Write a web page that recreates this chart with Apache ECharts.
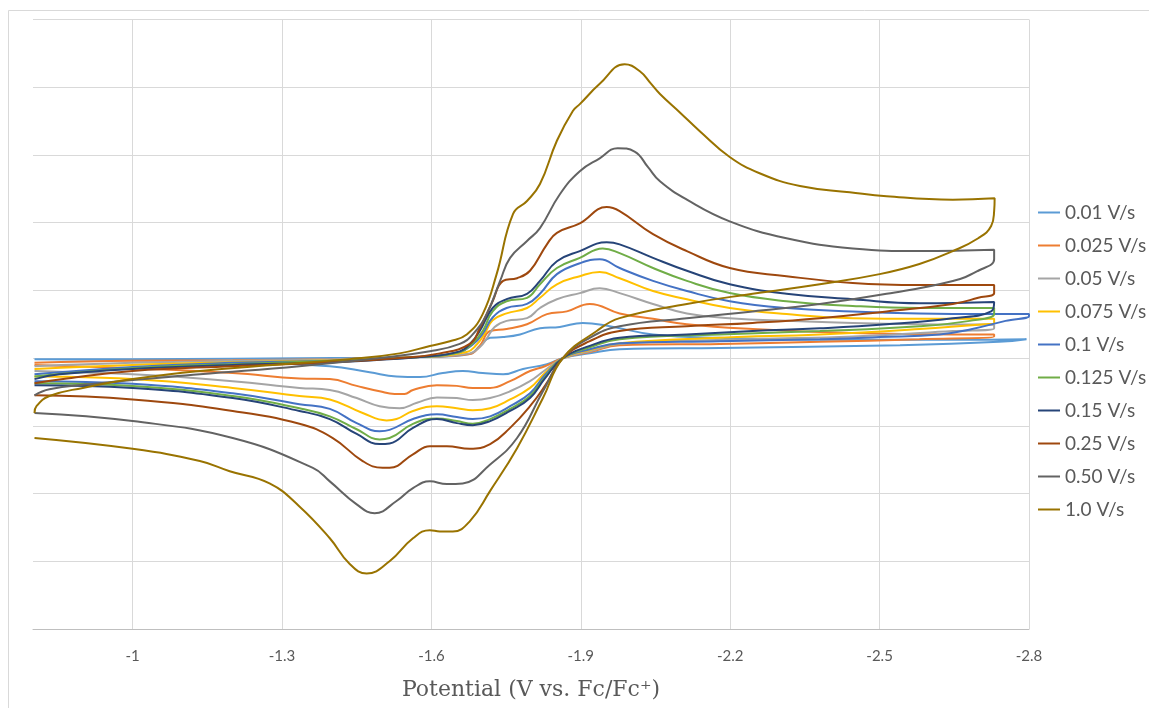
<!DOCTYPE html>
<html>
<head>
<meta charset="utf-8">
<title>Cyclic voltammetry – scan rate series</title>
<script src="https://cdn.jsdelivr.net/npm/echarts@6/dist/echarts.min.js"></script>
<style>
  html, body { margin: 0; padding: 0; background: #ffffff; }
  #chart { width: 1149px; height: 708px; }
</style>
</head>
<body>
<div id="chart"></div>
<script>
// Scan rates shown in the legend
const scanRates = ['0.01 V/s', '0.025 V/s', '0.05 V/s', '0.075 V/s', '0.1 V/s',
                   '0.125 V/s', '0.15 V/s', '0.25 V/s', '0.50 V/s', '1.0 V/s'];

// Voltammograms: [potential (V vs. Fc/Fc+), current]; forward sweep then return sweep
const cv_0_01 = [
  [-0.803,-0.15],[-1.000,-0.15],[-1.402,0],[-1.597,0.15],[-1.677,0.6],[-1.697,1.8],[-1.718,3.0],
  [-1.744,3.1],[-1.778,3.5],[-1.818,4.4],[-1.858,4.6],[-1.904,5.2],[-1.958,4.7],[-2.045,3.5],
  [-2.179,3.0],[-2.446,2.7],[-2.647,2.7],[-2.795,2.8],
  [-2.795,2.7],[-2.740,2.4],[-2.541,1.9],[-2.179,1.5],[-1.978,1.3],[-1.918,0.7],[-1.864,0],
  [-1.832,-0.9],[-1.784,-1.6],[-1.744,-2.4],[-1.703,-2.2],[-1.663,-1.9],[-1.623,-2.2],
  [-1.577,-2.8],[-1.530,-2.7],[-1.476,-2.1],[-1.396,-1.2],[-1.201,-0.6],[-1.000,-0.3],[-0.803,-0.15]
];
const cv_0_025 = [
  [-0.803,-0.7],[-1.000,-0.4],[-1.201,-0.3],[-1.402,-0.15],[-1.577,0.15],[-1.677,0.6],[-1.697,1.8],
  [-1.718,4.0],[-1.751,4.3],[-1.792,5.0],[-1.832,6.5],[-1.872,6.9],[-1.918,8.0],[-1.978,6.6],
  [-2.045,5.8],[-2.113,5.0],[-2.245,4.3],[-2.446,3.7],[-2.647,3.5],[-2.730,3.5],
  [-2.730,3.2],[-2.580,2.8],[-2.380,2.4],[-2.179,2.1],[-1.978,1.9],[-1.918,0.9],[-1.864,0],
  [-1.828,-1.2],[-1.798,-1.9],[-1.758,-3.4],[-1.718,-4.4],[-1.683,-4.4],[-1.651,-4.1],
  [-1.611,-4.0],[-1.563,-4.7],[-1.546,-5.3],[-1.526,-5.3],[-1.496,-4.9],[-1.450,-4.1],
  [-1.396,-3.1],[-1.335,-3.0],[-1.201,-2.2],[-1.000,-1.5],[-0.803,-1.0]
];
const cv_0_05 = [
  [-0.803,-1.2],[-1.000,-0.7],[-1.201,-0.4],[-1.402,-0.15],[-1.577,0.15],[-1.677,0.7],[-1.697,1.6],
  [-1.711,2.9],[-1.727,4.6],[-1.751,5.5],[-1.792,5.9],[-1.818,7.4],[-1.852,8.7],[-1.898,9.6],[-1.938,10.3],
  [-1.978,9.6],[-2.045,8.0],[-2.113,6.6],[-2.199,5.9],[-2.313,5.5],[-2.446,5.2],[-2.580,5.0],[-2.730,4.9],
  [-2.730,4.4],[-2.647,4.0],[-2.446,3.2],[-2.245,2.8],[-1.978,2.1],[-1.918,1.0],[-1.864,0],
  [-1.828,-1.8],[-1.798,-3.4],[-1.758,-4.9],[-1.718,-5.9],[-1.683,-6.2],[-1.651,-5.9],
  [-1.611,-5.8],[-1.571,-6.6],[-1.536,-7.4],[-1.496,-7.1],[-1.450,-5.9],[-1.396,-4.7],
  [-1.335,-4.4],[-1.201,-3.4],[-1.000,-2.4],[-0.803,-1.9]
];
const cv_0_075 = [
  [-0.803,-1.6],[-1.000,-1.0],[-1.201,-0.6],[-1.402,-0.3],[-1.577,0.15],[-1.671,0.9],[-1.691,2.0],
  [-1.707,3.6],[-1.723,5.6],[-1.751,6.6],[-1.792,7.4],[-1.818,8.9],[-1.852,10.9],[-1.898,12.1],[-1.938,12.7],
  [-1.978,11.8],[-2.045,9.9],[-2.113,8.7],[-2.199,7.4],[-2.313,6.5],[-2.446,5.9],[-2.580,5.8],[-2.730,5.8],
  [-2.730,5.2],[-2.712,5.0],[-2.580,4.3],[-2.380,3.5],[-2.179,3.0],[-1.978,2.2],[-1.918,1.2],[-1.864,0],
  [-1.828,-2.2],[-1.798,-4.4],[-1.758,-6.1],[-1.718,-7.4],[-1.683,-7.7],[-1.651,-7.4],
  [-1.611,-7.1],[-1.563,-7.8],[-1.530,-9.0],[-1.510,-9.2],[-1.462,-8.1],[-1.396,-6.1],
  [-1.335,-5.6],[-1.201,-4.4],[-1.000,-3.1],[-0.803,-2.7]
];
const cv_0_1 = [
  [-0.803,-2.4],[-1.000,-1.3],[-1.201,-0.7],[-1.402,-0.4],[-1.577,0.15],[-1.657,0.9],[-1.683,2.0],
  [-1.703,3.6],[-1.723,6.0],[-1.751,7.4],[-1.792,8.0],[-1.818,9.5],[-1.852,12.4],[-1.898,14.0],[-1.938,14.6],
  [-1.978,13.3],[-2.045,11.4],[-2.113,9.9],[-2.199,8.4],[-2.313,7.4],[-2.446,6.9],[-2.580,6.6],
  [-2.712,6.5],[-2.800,6.5],
  [-2.800,6.2],[-2.753,5.5],[-2.686,4.3],[-2.620,3.5],[-2.500,3.1],[-2.380,2.8],[-2.179,2.5],
  [-1.978,2.2],[-1.918,1.3],[-1.864,0],
  [-1.828,-2.5],[-1.798,-5.2],[-1.758,-7.1],[-1.718,-8.6],[-1.683,-9.0],[-1.651,-8.7],
  [-1.611,-8.3],[-1.563,-9.0],[-1.516,-10.6],[-1.496,-10.8],[-1.450,-9.6],[-1.396,-7.5],
  [-1.335,-6.8],[-1.201,-5.2],[-1.000,-3.8],[-0.803,-3.4]
];
const cv_0_125 = [
  [-0.803,-2.7],[-1.000,-1.5],[-1.201,-0.9],[-1.402,-0.4],[-1.577,0.15],[-1.657,0.9],[-1.683,2.2],
  [-1.703,4.0],[-1.723,6.9],[-1.751,8.4],[-1.792,8.9],[-1.818,10.9],[-1.852,13.3],[-1.898,14.8],[-1.944,16.2],
  [-1.978,15.5],[-2.045,13.3],[-2.113,11.4],[-2.199,9.6],[-2.313,8.4],[-2.446,7.7],[-2.580,7.4],[-2.730,7.4],
  [-2.730,6.5],[-2.681,5.5],[-2.580,4.7],[-2.380,4.0],[-2.179,3.5],[-1.978,2.8],[-1.918,1.6],[-1.864,0],
  [-1.828,-2.8],[-1.798,-5.6],[-1.758,-7.5],[-1.718,-9.0],[-1.683,-9.7],[-1.651,-9.3],
  [-1.611,-8.9],[-1.563,-9.7],[-1.516,-11.8],[-1.496,-12.0],[-1.450,-10.5],[-1.396,-8.6],
  [-1.335,-7.4],[-1.201,-5.6],[-1.000,-4.1],[-0.803,-3.7]
];
const cv_0_15 = [
  [-0.803,-3.1],[-0.853,-2.4],[-1.000,-1.6],[-1.201,-1.0],[-1.402,-0.6],[-1.577,0.15],[-1.657,1.0],
  [-1.680,2.3],[-1.697,4.0],[-1.723,7.4],[-1.751,8.7],[-1.792,9.5],[-1.818,11.4],[-1.852,14.3],[-1.898,15.8],
  [-1.952,17.1],[-1.978,16.8],[-2.045,14.8],[-2.113,12.9],[-2.199,10.9],[-2.313,9.5],[-2.446,8.7],
  [-2.580,8.1],[-2.730,8.3],
  [-2.724,6.9],[-2.647,5.9],[-2.514,5.0],[-2.380,4.4],[-2.245,4.0],[-2.113,3.5],[-1.978,3.0],
  [-1.918,1.8],[-1.864,0],
  [-1.828,-3.0],[-1.798,-5.9],[-1.758,-7.8],[-1.718,-9.3],[-1.683,-9.9],[-1.651,-9.6],
  [-1.611,-9.0],[-1.563,-10.3],[-1.516,-12.6],[-1.496,-12.7],[-1.450,-11.2],[-1.396,-9.0],
  [-1.335,-7.8],[-1.201,-5.9],[-1.000,-4.4],[-0.803,-4.0]
];
const cv_0_25 = [
  [-0.803,-3.7],[-0.868,-3.0],[-1.000,-1.9],[-1.201,-1.2],[-1.402,-0.6],[-1.536,0],[-1.617,0.7],
  [-1.677,2.1],[-1.697,4.4],[-1.723,8.4],[-1.744,11.4],[-1.772,11.8],[-1.798,12.9],[-1.832,16.8],
  [-1.852,18.5],[-1.898,19.9],[-1.952,22.3],[-1.978,21.7],[-2.045,18.3],[-2.113,15.8],[-2.199,13.3],
  [-2.313,12.1],[-2.446,11.1],[-2.580,10.8],[-2.730,10.8],
  [-2.730,9.6],[-2.698,8.9],[-2.647,8.0],[-2.514,6.9],[-2.380,5.9],[-2.245,5.2],[-2.113,4.7],
  [-1.978,4.0],[-1.918,2.5],[-1.864,0],
  [-1.828,-4.1],[-1.798,-7.1],[-1.758,-10.3],[-1.718,-12.7],[-1.677,-13.4],[-1.631,-13.0],
  [-1.597,-13.0],[-1.563,-14.2],[-1.516,-16.2],[-1.502,-16.2],[-1.462,-15.2],[-1.402,-11.8],
  [-1.335,-9.7],[-1.201,-7.8],[-1.000,-6.1],[-0.803,-5.5]
];
const cv_0_50 = [
  [-0.803,-5.5],[-0.833,-4.6],[-0.934,-3.7],[-1.135,-2.4],[-1.335,-1.2],[-1.496,0],[-1.597,1.0],
  [-1.657,2.1],[-1.683,3.5],[-1.711,6.5],[-1.738,11.4],[-1.758,14.8],[-1.792,17.3],[-1.818,19.2],
  [-1.858,24.2],[-1.898,27.6],[-1.938,29.5],[-1.974,31.0],[-2.008,30.5],[-2.035,28.2],[-2.059,26.1],
  [-2.113,23.4],[-2.199,20.2],[-2.313,17.7],[-2.446,16.2],[-2.580,15.8],[-2.730,16.0],
  [-2.730,14.6],[-2.698,12.9],[-2.647,11.4],[-2.514,9.5],[-2.380,8.0],[-2.245,6.9],[-2.113,5.9],
  [-1.978,4.7],[-1.918,3.0],[-1.864,0],
  [-1.824,-4.9],[-1.772,-11.8],[-1.718,-15.7],[-1.663,-18.5],[-1.631,-18.6],[-1.597,-18.2],
  [-1.563,-19.2],[-1.530,-21.1],[-1.486,-22.9],[-1.450,-21.6],[-1.396,-18.2],[-1.362,-16.2],
  [-1.201,-11.8],[-1.000,-9.3],[-0.803,-8.1]
];
const cv_1_0 = [
  [-0.803,-8.1],[-0.807,-7.1],[-0.833,-5.6],[-0.900,-4.4],[-1.000,-3.1],[-1.135,-1.9],[-1.301,-0.9],
  [-1.436,-0.15],[-1.536,0.7],[-1.597,1.8],[-1.637,2.5],[-1.671,3.5],[-1.703,6.5],[-1.731,12.4],
  [-1.764,21.3],[-1.792,23.2],[-1.818,25.7],[-1.852,32.1],[-1.884,36.5],[-1.898,37.5],[-1.938,40.5],
  [-1.988,43.4],[-2.018,42.4],[-2.040,40.6],[-2.059,39.0],[-2.100,36.2],[-2.139,33.5],[-2.199,29.7],
  [-2.259,27.3],[-2.340,25.4],[-2.440,24.5],[-2.514,23.9],[-2.647,23.4],[-2.731,23.6],
  [-2.730,21.7],[-2.724,19.5],[-2.698,17.7],[-2.647,15.8],[-2.580,13.9],[-2.500,12.4],[-2.380,10.9],
  [-2.245,9.5],[-2.113,8.0],[-1.978,5.9],[-1.932,4.0],[-1.864,0],
  [-1.824,-5.9],[-1.772,-13.3],[-1.718,-19.6],[-1.677,-24.1],[-1.643,-25.6],[-1.617,-25.6],
  [-1.597,-25.4],[-1.563,-26.6],[-1.516,-30.0],[-1.470,-31.8],[-1.436,-30.4],[-1.396,-26.6],
  [-1.335,-21.9],[-1.275,-18.5],[-1.195,-16.7],[-1.135,-15.2],[-1.000,-13.4],[-0.803,-11.8]
];

const curves = [cv_0_01, cv_0_025, cv_0_05, cv_0_075, cv_0_1,
                cv_0_125, cv_0_15, cv_0_25, cv_0_50, cv_1_0];

// Office-style palette, one colour per scan rate
const palette = ['#5B9BD5', '#ED7D31', '#A5A5A5', '#FFC000', '#4472C4',
                 '#70AD47', '#264478', '#9E480E', '#636363', '#997300'];

const textColor = '#595959';
const gridColor = '#d9d9d9';
const labelFont = 'Lato, "Open Sans", sans-serif';

const chart = echarts.init(document.getElementById('chart'), null, { renderer: 'canvas' });

const series = curves.map((pts, i) => ({
  name: scanRates[i],
  type: 'line',
  data: pts,
  symbol: 'none',
  smooth: 0.45,
  lineStyle: { width: 2, color: palette[i] },
  itemStyle: { color: palette[i] },
  emphasis: { disabled: true }
}));

chart.setOption({
  animation: false,
  backgroundColor: '#ffffff',
  color: palette,
  graphic: [{
    type: 'rect',
    shape: { x: 8.5, y: 10.5, width: 1160, height: 720 },
    style: { fill: 'none', stroke: gridColor, lineWidth: 1 },
    silent: true,
    z: -10
  }],
  grid: { left: 33, right: 120, top: 19.5, bottom: 79 },
  legend: {
    orient: 'vertical',
    left: 1037,
    top: 203,
    padding: 0,
    itemWidth: 22,
    itemHeight: 18,
    itemGap: 14,
    selectedMode: false,
    itemStyle: { opacity: 0 },
    lineStyle: { width: 2 },
    textStyle: { color: textColor, fontSize: 19, fontFamily: labelFont, lineHeight: 18 },
    data: scanRates
  },
  xAxis: [{
    type: 'value',
    min: -2.8,
    max: -0.8,
    interval: 0.3,
    inverse: true,
    axisLine: { show: false },
    axisTick: { show: false },
    axisLabel: {
      showMaxLabel: false,
      color: textColor,
      fontSize: 15,
      fontFamily: labelFont,
      margin: 20,
      formatter: v => String(+v.toFixed(1))
    },
    splitLine: { show: true, showMaxLine: false, lineStyle: { color: gridColor, width: 1 } },
    name: 'Potential (V vs. Fc/Fc\u207A)',
    nameLocation: 'middle',
    nameGap: 50,
    nameTextStyle: { color: textColor, fontSize: 22, fontFamily: '"DejaVu Serif", serif' }
  }, {
    // horizontal axis line through zero current
    type: 'value',
    min: -2.8,
    max: -0.8,
    inverse: true,
    position: 'bottom',
    axisLine: { show: true, onZero: true, lineStyle: { color: '#bfbfbf', width: 1 } },
    axisTick: { show: false },
    axisLabel: { show: false },
    splitLine: { show: false }
  }],
  yAxis: {
    type: 'value',
    min: -40,
    max: 50,
    interval: 10,
    axisLine: { show: false },
    axisTick: { show: false },
    axisLabel: { show: false },
    splitLine: { show: true, lineStyle: { color: gridColor, width: 1 } }
  },
  series: series
});
</script>
</body>
</html>
